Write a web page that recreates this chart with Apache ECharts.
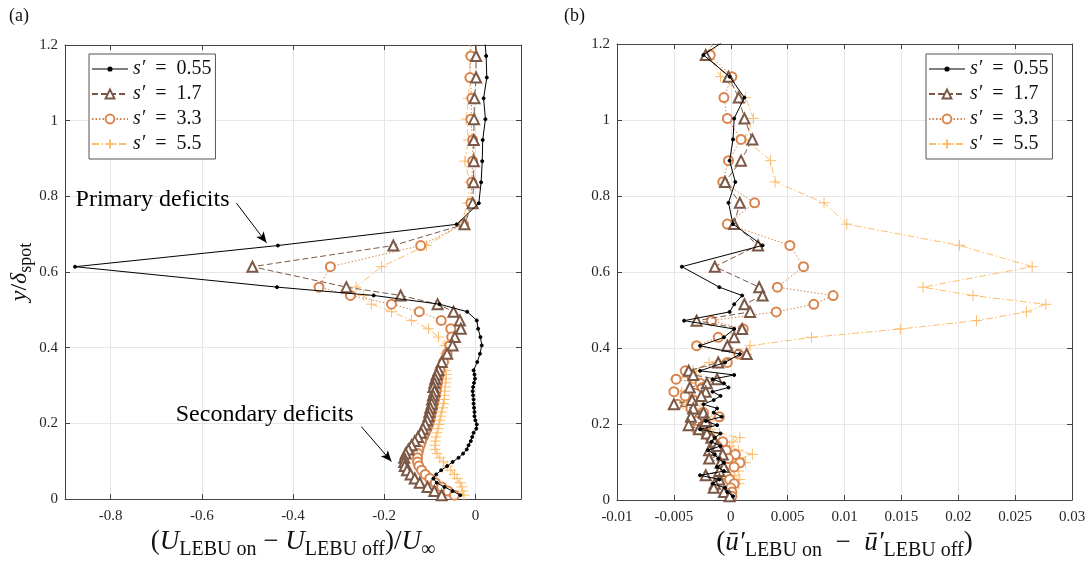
<!DOCTYPE html>
<html>
<head>
<meta charset="utf-8">
<script src="https://cdn.jsdelivr.net/npm/echarts@6/dist/echarts.min.js"></script>
<style>
  html, body { margin: 0; padding: 0; background: #fff; }
  #main { width: 1092px; height: 561px; }
</style>
</head>
<body>
<div id="main"></div>
<script>
// wall-normal positions y/delta_spot (shared by every profile)
var yPos = [1.226, 1.171, 1.114, 1.059, 1.004, 0.949, 0.893, 0.837, 0.782, 0.726, 0.670, 0.614,
  0.560, 0.538, 0.515, 0.495, 0.472, 0.450, 0.428, 0.406, 0.384, 0.362, 0.340,
  0.329, 0.318, 0.307, 0.296, 0.285, 0.274, 0.263, 0.252, 0.241, 0.230, 0.219, 0.208,
  0.197, 0.186, 0.175, 0.164, 0.153, 0.142, 0.131, 0.120, 0.109, 0.098, 0.087, 0.076,
  0.065, 0.054, 0.043, 0.032, 0.021, 0.010];

var seriesNames = ['s′ = 0.55', 's′ = 1.7', 's′ = 3.3', 's′ = 5.5'];

// (a) mean velocity difference
var meanS055 = [0.020, 0.0235, 0.025, 0.018, 0.022, 0.016, 0.015, 0.0125, 0.0075, -0.041, -0.433, -0.878,
  -0.435, -0.223, -0.079, -0.018, 0.003, 0.006, 0.011, 0.014, 0.010, 0.004, -0.004,
  -0.002, -0.001, -0.003, -0.005, -0.006, -0.005, -0.004, -0.004, -0.003, -0.002, -0.002, 0.000,
  0.003, 0.002, -0.004, -0.007, -0.010, -0.015, -0.019, -0.027, -0.037, -0.050, -0.062, -0.075,
  -0.086, -0.092, -0.085, -0.068, -0.050, -0.033];
var meanS17 = [0.002, 0.0015, 0.0015, -0.002, -0.003, -0.0035, -0.0035, -0.004, -0.006, -0.024, -0.180, -0.489,
  -0.283, -0.164, -0.083, -0.048, -0.034, -0.032, -0.045, -0.050, -0.062, -0.074, -0.081,
  -0.085, -0.088, -0.090, -0.092, -0.090, -0.093, -0.095, -0.096, -0.099, -0.101, -0.103, -0.106,
  -0.110, -0.115, -0.119, -0.126, -0.133, -0.140, -0.147, -0.153, -0.156, -0.156, -0.155, -0.150,
  -0.142, -0.133, -0.122, -0.105, -0.090, -0.074];
var meanS33 = [-0.010, -0.010, -0.012, -0.008, -0.010, -0.006, -0.006, -0.008, -0.010, -0.026, -0.120, -0.318,
  -0.343, -0.274, -0.184, -0.123, -0.075, -0.054, -0.052, -0.056, -0.062, -0.070, -0.078,
  -0.080, -0.082, -0.083, -0.085, -0.086, -0.088, -0.090, -0.092, -0.094, -0.096, -0.098, -0.100,
  -0.103, -0.106, -0.110, -0.114, -0.118, -0.121, -0.124, -0.126, -0.127, -0.127, -0.124, -0.118,
  -0.110, -0.100, -0.088, -0.074, -0.060, -0.046];
var meanS55 = [-0.012, -0.012, -0.013, -0.015, -0.020, -0.015, -0.023, -0.012, -0.018, -0.030, -0.107, -0.206,
  -0.262, -0.245, -0.228, -0.184, -0.140, -0.103, -0.081, -0.067, -0.066, -0.068, -0.066,
  -0.064, -0.064, -0.066, -0.066, -0.067, -0.068, -0.068, -0.070, -0.072, -0.074, -0.076, -0.078,
  -0.080, -0.082, -0.084, -0.086, -0.088, -0.089, -0.088, -0.084, -0.078, -0.070, -0.062, -0.054,
  -0.046, -0.040, -0.034, -0.030, -0.028, -0.025];

// (b) fluctuation difference
var rmsS055 = [0.0003, -0.0024, -0.0001, 0.0012, 0.0003, 0.0002, -0.0001, 0.0004, -0.0002, 0.0002, 0.0028, -0.0043,
  -0.0010, 0.0010, 0.0003, -0.0001, -0.0041, 0.0003, -0.0006, -0.0027, 0.0008, -0.0005, -0.0027,
  0.0003, -0.0016, -0.0006, -0.0002, -0.0016, -0.0009, -0.0015, -0.0024, -0.0012, -0.0015, -0.0008, -0.0022,
  -0.0012, -0.0027, -0.0009, -0.0014, -0.0017, -0.0009, -0.0020, -0.0014, -0.0011, -0.0006, -0.0012, -0.0006,
  -0.0027, -0.0010, -0.0016, -0.0005, -0.0003, 0.0002];
var rmsS17 = [-0.0010, -0.0022, -0.0002, 0.0007, 0.0012, 0.0019, 0.0009, -0.0005, 0.0008, 0.0003, 0.0024, -0.0014,
  0.0025, 0.0028, 0.0012, 0.0017, -0.0030, 0.0010, 0.0003, -0.0003, 0.0014, -0.0011, -0.0037,
  -0.0033, -0.0012, -0.0021, -0.0036, -0.0022, -0.0026, -0.0034, -0.0050, -0.0033, -0.0024, -0.0035, -0.0022,
  -0.0037, -0.0028, -0.0021, -0.0017, -0.0014, -0.0012, -0.0019, -0.0007, -0.0019, -0.0009, -0.0006, -0.0010,
  -0.0022, -0.0010, -0.0014, -0.0015, -0.0006, -0.0001];
var rmsS33 = [-0.0005, -0.0018, 0.0001, -0.0006, -0.0003, 0.0009, -0.0002, -0.0007, 0.0021, -0.0003, 0.0052, 0.0064,
  0.0041, 0.0090, 0.0073, 0.0040, -0.0017, 0.0011, -0.0011, -0.0030, 0.0007, -0.0003, -0.0040,
  -0.0035, -0.0048, -0.0027, -0.0025, -0.0050, -0.0040, -0.0033, -0.0047, -0.0035, -0.0024, -0.0010, -0.0030,
  -0.0021, -0.0030, -0.0022, -0.0018, -0.0007, -0.0012, -0.0004, 0.0004, -0.0002, 0.0008, 0.0003, -0.0006,
  -0.0004, -0.0001, 0.0003, 0.0000, 0.0001, 0.0001];
var rmsS55 = [-0.0015, -0.0019, -0.0009, 0.0013, 0.0020, 0.0013, 0.0035, 0.0039, 0.0082, 0.0102, 0.0201, 0.0265,
  0.0169, 0.0213, 0.0277, 0.0260, 0.0216, 0.0149, 0.0071, 0.0017, 0.0014, -0.0019, -0.0033,
  -0.0030, -0.0049, -0.0030, -0.0025, -0.0043, -0.0034, -0.0035, -0.0042, -0.0027, -0.0031, -0.0021, -0.0019,
  -0.0023, -0.0018, -0.0010, 0.0008, 0.0002, -0.0001, 0.0007, 0.0019, 0.0008, 0.0013, 0.0003, 0.0007,
  0.0003, 0.0008, 0.0007, 0.0003, 0.0001, 0.0001];

var xTicksA = [-0.8, -0.6, -0.4, -0.2, 0];

var colors = ['#000000', '#7b5846', '#d9844c', '#fdbd6b'];
var dashes = ['solid', [6, 3], [1.5, 2], [7, 2.5, 1.5, 2.5]];
var symbols = ['circle', 'emptyTriangle', 'emptyCircle', 'path://M5,0V10M0,5H10'];
var symSizes = [3, 10, 9, 11];

var serif = '"Liberation Serif", "DejaVu Serif", serif';
var txt = '#262626';

function pairs(xs) {
  return yPos.map(function (y, i) { return [xs[i], y]; });
}

function mk(k, xs, xi, yi) {
  return {
    name: seriesNames[k],
    type: 'line',
    xAxisIndex: xi,
    yAxisIndex: yi,
    data: pairs(xs),
    symbol: symbols[k],
    symbolSize: symSizes[k],
    z: 10 - k,
    lineStyle: { color: colors[k], width: 1, type: dashes[k] },
    itemStyle: { color: colors[k], borderColor: colors[k], borderWidth: 1 },
    emphasis: { disabled: true },
    animation: false
  };
}

function xAx(grid, min, max, pos, ticks, show) {
  var a = {
    type: 'value', gridIndex: grid, min: min, max: max, position: pos,
    axisLine: { show: true, onZero: false, lineStyle: { color: '#444', width: 1 } },
    axisTick: { show: true, inside: true, length: 5, lineStyle: { color: '#444' } },
    splitLine: { show: show, lineStyle: { color: '#e6e6e6', width: 1 } },
    axisLabel: { show: show, color: txt, fontFamily: serif, fontSize: 15, margin: 10 }
  };
  if (ticks) {
    a.axisTick.customValues = ticks;
    a.axisLabel.customValues = ticks;
  } else {
    a.interval = 0.005;
  }
  return a;
}

function yAx(grid, pos, show) {
  return {
    type: 'value', gridIndex: grid, min: 0, max: 1.2, interval: 0.2, position: pos,
    axisLine: { show: true, onZero: false, lineStyle: { color: '#444', width: 1 } },
    axisTick: { show: true, inside: true, length: 5, lineStyle: { color: '#444' } },
    splitLine: { show: show, lineStyle: { color: '#e6e6e6', width: 1 } },
    axisLabel: { show: show, color: txt, fontFamily: serif, fontSize: 15, margin: 7 }
  };
}

var legendText = {
  color: '#111', fontFamily: serif, fontSize: 20,
  rich: { i: { fontFamily: serif, fontStyle: 'italic', fontSize: 20, color: '#111' } }
};
function legendFmt(name) {
  return name.replace('s′', '{i|s′}').replace(' = ', '\u2002=\u2002');
}
// small dot on a line for the s'=0.55 legend entry
var dotIcon = 'path://M0,2H36M20,2a2,2 0 1,1 -4,0a2,2 0 1,1 4,0';
var legendData = [
  { name: seriesNames[0], icon: dotIcon, itemStyle: { color: '#000', borderColor: '#000', borderWidth: 1.2 } },
  seriesNames[1], seriesNames[2], seriesNames[3]
];

var chart = echarts.init(document.getElementById('main'));

var nameStyle = {
  color: '#111', fontFamily: serif, fontSize: 27,
  rich: {
    i: { fontFamily: serif, fontStyle: 'italic', fontSize: 27, color: '#111' },
    n: { fontFamily: serif, fontSize: 27, color: '#111' },
    s: { fontFamily: serif, fontSize: 20, color: '#111', padding: [14, 0, 0, 0] }
  }
};

var xa0 = xAx(0, -0.9, 0.1, 'bottom', xTicksA, true);
xa0.name = '{n|(}{i|U}{s|LEBU on}{n| − }{i|U}{s|LEBU off}{n|)/}{i|U}{s|∞}';
xa0.nameLocation = 'middle';
xa0.nameGap = 25;
xa0.nameTextStyle = nameStyle;
var xa2 = xAx(1, -0.01, 0.03, 'bottom', null, true);
xa2.name = '{n|(}{i|ū′}{s|LEBU on}{n|\u2002−\u2002}{i|ū′}{s|LEBU off}{n|)}';
xa2.nameLocation = 'middle';
xa2.nameGap = 25;
xa2.nameTextStyle = nameStyle;

var ya0 = yAx(0, 'left', true);
ya0.name = '{i|y}{n|/}{i|δ}{s|spot}';
ya0.nameLocation = 'middle';
ya0.nameRotate = 90;
ya0.nameGap = 26;
ya0.nameTextStyle = {
  color: '#111', fontFamily: serif, fontSize: 24,
  rich: {
    i: { fontFamily: serif, fontStyle: 'italic', fontSize: 24, color: '#111' },
    n: { fontFamily: serif, fontSize: 24, color: '#111' },
    s: { fontFamily: serif, fontSize: 18, color: '#111', padding: [13, 0, 0, 0] }
  }
};

var option = {
  backgroundColor: '#fff',
  animation: false,
  title: [
    { text: '(a)', left: 4, top: 2, textStyle: { fontFamily: serif, fontSize: 18, fontWeight: 'normal', color: '#111' } },
    { text: '(b)', left: 559, top: 2, textStyle: { fontFamily: serif, fontSize: 18, fontWeight: 'normal', color: '#111' } }
  ],
  grid: [
    { left: 65, top: 45, width: 456, height: 454, outerBoundsMode: 'none' },
    { left: 617, top: 44, width: 455, height: 456, outerBoundsMode: 'none' }
  ],
  legend: [
    {
      data: legendData, orient: 'vertical', left: 89, top: 54,
      itemWidth: 36, itemHeight: 11, itemGap: 5,
      padding: [5, 4, 5, 2],
      backgroundColor: '#fff', borderColor: '#555', borderWidth: 1,
      formatter: legendFmt, textStyle: legendText, selectedMode: false
    },
    {
      data: legendData, orient: 'vertical', left: 926, top: 54,
      itemWidth: 36, itemHeight: 11, itemGap: 5,
      padding: [5, 4, 5, 2],
      backgroundColor: '#fff', borderColor: '#555', borderWidth: 1,
      formatter: legendFmt, textStyle: legendText, selectedMode: false
    }
  ],
  xAxis: [
    xa0,
    xAx(0, -0.9, 0.1, 'top', xTicksA, false),
    xa2,
    xAx(1, -0.01, 0.03, 'top', null, false)
  ],
  yAxis: [
    ya0,
    yAx(0, 'right', false),
    yAx(1, 'left', true),
    yAx(1, 'right', false)
  ],
  series: [
    mk(0, meanS055, 0, 0),
    mk(1, meanS17, 0, 0),
    mk(2, meanS33, 0, 0),
    mk(3, meanS55, 0, 0),
    mk(0, rmsS055, 2, 2),
    mk(1, rmsS17, 2, 2),
    mk(2, rmsS33, 2, 2),
    mk(3, rmsS55, 2, 2)
  ]
};

// annotations on panel (a), placed in data coordinates
option.series[0].markLine = {
  silent: true, symbol: ['none', 'arrow'], symbolSize: [7, 11],
  lineStyle: { color: '#000', type: 'solid', width: 1 },
  label: { show: false },
  data: [
    [{ coord: [-0.524, 0.782] }, { coord: [-0.458, 0.677] }],
    [{ coord: [-0.250, 0.191] }, { coord: [-0.184, 0.099] }]
  ]
};
option.series[0].markPoint = {
  silent: true, symbol: 'circle', symbolSize: 0,
  label: { show: true, position: 'inside', color: '#000', fontFamily: serif, fontSize: 24 },
  data: [
    { coord: [-0.708, 0.790], value: 'Primary deficits', label: { formatter: 'Primary deficits' } },
    { coord: [-0.462, 0.222], value: 'Secondary deficits', label: { formatter: 'Secondary deficits' } }
  ]
};

chart.setOption(option);
</script>
</body>
</html>
